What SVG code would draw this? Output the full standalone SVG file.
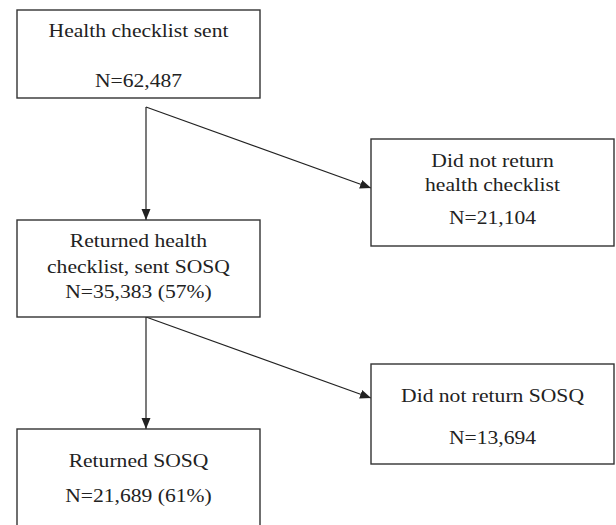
<svg xmlns="http://www.w3.org/2000/svg" width="616" height="525" viewBox="0 0 616 525">
<style>
.box{fill:#fff;stroke:#333;stroke-width:1.4}
.t{font-family:"Liberation Serif","Times New Roman",serif;font-size:18px;fill:#222;text-anchor:middle}
.c{fill:none;stroke:#222;stroke-width:1.2}
</style>
<defs>
<marker id="ah" markerUnits="userSpaceOnUse" markerWidth="12" markerHeight="10" refX="11" refY="4.5" orient="auto">
<path d="M0,0 L11,4.5 L0,9 z" fill="#222"/>
</marker>
</defs>
<rect width="616" height="525" fill="#fff"/>
<g id="connectors">
<line class="c" x1="146" y1="107" x2="146" y2="220" marker-end="url(#ah)"/>
<line class="c" x1="146" y1="107" x2="371" y2="188" marker-end="url(#ah)"/>
<line class="c" x1="146" y1="317" x2="146" y2="429" marker-end="url(#ah)"/>
<line class="c" x1="146" y1="317" x2="371" y2="398" marker-end="url(#ah)"/>
</g>
<g id="n1">
<rect class="box" x="17" y="10" width="243" height="88"/>
<text class="t" transform="translate(138.5 37) scale(1.2 1)">Health checklist sent</text>
<text class="t" transform="translate(138.5 87) scale(1.2 1)">N=62,487</text>
</g>
<g id="n2">
<rect class="box" x="371" y="139" width="243" height="107"/>
<text class="t" transform="translate(492.5 167) scale(1.2 1)">Did not return</text>
<text class="t" transform="translate(492.5 191) scale(1.2 1)">health checklist</text>
<text class="t" transform="translate(492.5 224) scale(1.2 1)">N=21,104</text>
</g>
<g id="n3">
<rect class="box" x="17" y="220" width="243" height="97"/>
<text class="t" transform="translate(138.5 247) scale(1.2 1)">Returned health</text>
<text class="t" transform="translate(138.5 273) scale(1.2 1)">checklist, sent SOSQ</text>
<text class="t" transform="translate(138.5 298) scale(1.2 1)">N=35,383 (57%)</text>
</g>
<g id="n4">
<rect class="box" x="371" y="364" width="243" height="100"/>
<text class="t" transform="translate(492.5 402) scale(1.2 1)">Did not return SOSQ</text>
<text class="t" transform="translate(492.5 444) scale(1.2 1)">N=13,694</text>
</g>
<g id="n5">
<rect class="box" x="17" y="429" width="243" height="110"/>
<text class="t" transform="translate(138.5 467) scale(1.2 1)">Returned SOSQ</text>
<text class="t" transform="translate(138.5 502) scale(1.2 1)">N=21,689 (61%)</text>
</g>
</svg>
